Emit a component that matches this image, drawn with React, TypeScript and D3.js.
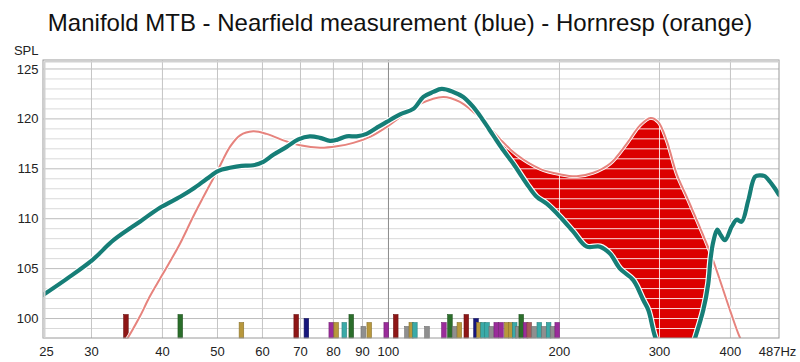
import React from "react";
import * as d3 from "d3";

const TITLE = "Manifold MTB - Nearfield measurement (blue) - Hornresp (orange)";

// Measured (teal) response: [Hz, dB SPL]
const measuredFreq = [24.65, 27.1, 30.1, 32.8, 36.5, 39.6, 43.0, 45.3, 47.9, 50.2, 52.6, 55.1, 57.8, 60.2, 62.7, 66.2, 69.4, 72.7, 75.8, 78.9, 81.1, 84.4, 87.9, 91.5, 95.3, 99.3, 104.8, 110.6, 115.2, 119.9, 124.1, 130.0, 135.4, 141.0, 146.8, 152.9, 159.3, 165.9, 175.1, 182.3, 189.9, 200.4, 211.5, 223.3, 235.7, 245.4, 255.6, 269.7, 280.9, 286.7, 294.6, 306.7, 326.0, 339.4, 346.4, 358.3, 365.6, 369.1, 373.1, 379.2, 383.3, 391.1, 402.0, 410.2, 418.6, 430.0, 441.8, 450.8, 460.1, 469.5, 478.0, 487.0];
const measuredSpl = [102.35, 103.95, 105.85, 107.85, 109.7, 111.1, 112.2, 113.0, 114.0, 114.8, 115.1, 115.3, 115.35, 115.7, 116.4, 117.2, 117.95, 118.25, 118.1, 117.8, 117.9, 118.25, 118.25, 118.5, 119.1, 119.7, 120.45, 121.0, 122.2, 122.7, 123.0, 122.7, 122.2, 121.2, 119.85, 118.35, 116.85, 115.5, 113.5, 112.2, 111.5, 110.2, 108.7, 107.2, 107.2, 106.5, 105.0, 103.85, 101.85, 100.85, 98.2, 96.0, 94.5, 96.5, 98.0, 100.85, 103.5, 106.0, 107.7, 108.9, 108.5, 107.85, 109.2, 109.9, 109.7, 111.85, 114.2, 114.35, 114.25, 113.7, 113.1, 112.4];

// Hornresp (salmon) simulation: [Hz, dB SPL]
const simFreq = [33.2, 34.7, 36.5, 38.0, 40.1, 42.95, 45.3, 47.9, 50.2, 52.6, 54.8, 57.8, 61.0, 65.3, 69.9, 75.8, 81.1, 86.7, 92.8, 99.3, 106.2, 113.6, 124.9, 133.6, 141.0, 146.8, 157.1, 168.2, 184.8, 200.4, 214.4, 229.4, 245.4, 262.6, 277.2, 289.4, 298.5, 308.8, 321.6, 337.1, 369.1, 399.2, 412.9, 424.2];
const simSpl = [96.5, 98.0, 100.2, 102.2, 104.5, 107.5, 110.2, 112.85, 115.0, 117.2, 118.35, 118.75, 118.5, 117.85, 117.35, 117.1, 117.25, 117.6, 118.2, 119.2, 120.4, 121.5, 122.2, 121.7, 120.7, 119.85, 118.0, 116.4, 115.0, 114.45, 114.25, 114.6, 115.5, 117.5, 119.35, 120.1, 119.7, 117.85, 114.5, 111.85, 106.5, 100.85, 98.5, 97.0];

// Marker bars at the bottom: frequency, level, colour key
const barFreq = [34.5, 43.0, 55.1, 68.8, 71.7, 79.3, 80.9, 83.6, 86.0, 90.3, 92.5, 99.1, 103.0, 107.8, 109.7, 111.3, 116.9, 125.2, 128.3, 130.7, 133.3, 137.1, 142.6, 144.3, 146.7, 149.1, 151.7, 154.8, 157.8, 161.5, 164.1, 166.8, 169.0, 171.3, 174.4, 176.9, 180.4, 184.3, 187.8, 191.4, 194.4, 198.2];
const barLevel = [100.4, 100.4, 99.6, 100.4, 100.0, 99.6, 99.6, 99.6, 100.4, 99.2, 99.6, 99.6, 100.4, 99.2, 99.6, 99.6, 99.2, 99.6, 100.4, 99.2, 99.6, 100.4, 100.0, 99.6, 99.6, 99.6, 99.2, 99.6, 99.6, 99.6, 99.6, 99.6, 99.2, 100.4, 99.6, 99.6, 99.2, 99.6, 99.2, 99.6, 99.2, 99.6];
const barKind = ["dr", "gr", "go", "dr", "nv", "pu", "go", "cy", "gr", "ga", "go", "pu", "dr", "ga", "go", "cy", "ga", "pu", "gr", "ga", "go", "dr", "nv", "go", "cy", "cy", "ga", "pu", "pu", "go", "go", "cy", "ga", "gr", "pu", "br", "ga", "cy", "ga", "cy", "ga", "pu"];

const xTicks = [25, 30, 40, 50, 60, 70, 80, 90, 100, 200, 300, 400, 487];
const xGrid = [30, 40, 50, 60, 70, 80, 90, 100, 200, 300, 400];
const yTicks = [100, 105, 110, 115, 120, 125];

const BAR_COLORS: Record<string, string> = {
  dr: "#8e1616",
  gr: "#2b6e2b",
  go: "#b8983c",
  nv: "#16167c",
  pu: "#9a2c9a",
  cy: "#3aaaa8",
  ga: "#8f8f8f",
  br: "#a85a5a",
};

export default function App() {
  const W = 800, H = 362;
  const L = 43, T = 60, R = 779, B = 338;
  const x = d3.scaleLog().domain([24.65, 487]).range([L, R]);
  const y = d3.scaleLinear().domain([98.05, 125.9]).range([B, T]);

  const meas = measuredFreq.map((f, i) => [f, measuredSpl[i]] as [number, number]);
  const sim = simFreq.map((f, i) => [f, simSpl[i]] as [number, number]);
  const curve = d3.curveCatmullRom.alpha(0.5);

  const line = d3.line<[number, number]>().x(d => x(d[0])).y(d => y(d[1])).curve(curve);
  const belowSim = d3.area<[number, number]>().x(d => x(d[0])).y0(H + 50).y1(d => y(d[1])).curve(curve);
  const aboveMeas = d3.area<[number, number]>().x(d => x(d[0])).y0(-50).y1(d => y(d[1])).curve(curve);

  const hLines = d3.range(99, 126);
  const font = "'Liberation Sans', Arial, sans-serif";

  const fillX0 = x(100), fillX1 = x(385);

  return (
    <svg width={W} height={H} style={{ display: "block", position: "absolute", left: 0, top: 0, background: "#fff" }} fontFamily={font}>
      <defs>
        <clipPath id="plotClip"><rect x={L} y={T} width={R - L} height={B - T} /></clipPath>
        <clipPath id="belowSim"><path d={belowSim(sim) || ""} /></clipPath>
        <clipPath id="aboveMeas"><path d={aboveMeas(meas) || ""} /></clipPath>
      </defs>
      <rect x={0} y={0} width={W} height={H} fill="#fff" />
      <text x={400} y={31} textAnchor="middle" fontSize={24} fill="#111">{TITLE}</text>
      <text x={38.5} y={50.5} textAnchor="end" dominantBaseline="central" fontSize={13} fill="#222">SPL</text>

      {/* grid */}
      <g>
        {hLines.map(v => (
          <line key={"h" + v} x1={L} x2={R} y1={y(v)} y2={y(v)} stroke={v % 5 === 0 ? "#bcbcbc" : "#d9d9d9"} strokeWidth={1} />
        ))}
        {xGrid.map(f => (
          <line key={"v" + f} x1={x(f)} x2={x(f)} y1={T} y2={B} stroke={f === 100 ? "#8a8a8a" : "#c4c4c4"} strokeWidth={1} />
        ))}
      </g>

      {/* red difference fill */}
      <g clipPath="url(#plotClip)">
        <g clipPath="url(#belowSim)">
          <g clipPath="url(#aboveMeas)">
            <rect x={fillX0} y={T} width={fillX1 - fillX0} height={B - T} fill="#dc0000" />
            {hLines.map(v => (
              <line key={"wh" + v} x1={fillX0} x2={fillX1} y1={y(v)} y2={y(v)} stroke="#ffffff" strokeWidth={1} opacity={0.85} />
            ))}
            {[200, 300].map(f => (
              <line key={"wv" + f} x1={x(f)} x2={x(f)} y1={T} y2={B} stroke="#ffffff" strokeWidth={1} opacity={0.85} />
            ))}
          </g>
        </g>
      </g>

      {/* marker bars */}
      <g>
        {barFreq.map((f, i) => {
          const c = BAR_COLORS[barKind[i]];
          const top = y(barLevel[i]);
          return (
            <rect key={"b" + i} x={x(f) - 2.3} y={top} width={4.6} height={B - top}
              fill={c} stroke={d3.color(c)!.darker(0.8).toString()} strokeWidth={0.6} />
          );
        })}
      </g>

      {/* curves */}
      <g clipPath="url(#plotClip)">
        <path d={line(sim) || ""} fill="none" stroke="#ffffff" strokeWidth={3.6} />
        <path d={line(sim) || ""} fill="none" stroke="#e6837d" strokeWidth={2} />
        <path d={line(meas) || ""} fill="none" stroke="#ffffff" strokeWidth={6.5} strokeLinejoin="round" />
        <path d={line(meas) || ""} fill="none" stroke="#167e77" strokeWidth={4.2} strokeLinejoin="round" strokeLinecap="round" />
      </g>

      {/* frame */}
      <rect x={L} y={T} width={R - L} height={B - T} fill="none" stroke="#9a9a9a" strokeWidth={1} />
      <line x1={L + 1.5} x2={R} y1={T + 1.5} y2={T + 1.5} stroke="#d2d2d2" strokeWidth={2} />
      <line x1={L + 1.5} x2={L + 1.5} y1={T + 1.5} y2={B} stroke="#d2d2d2" strokeWidth={2} />

      {/* axes labels */}
      {yTicks.map(v => (
        <text key={"yt" + v} x={38.5} y={y(v)} dy="0.35em" textAnchor="end" fontSize={13} fill="#222">{v}</text>
      ))}
      {xTicks.map(f => (
        <text key={"xt" + f} x={x(f) + (f === 487 ? -1.5 : 0)} y={355.5} textAnchor="middle" fontSize={13} fill="#222">{f === 487 ? "487Hz" : String(f)}</text>
      ))}
    </svg>
  );
}
